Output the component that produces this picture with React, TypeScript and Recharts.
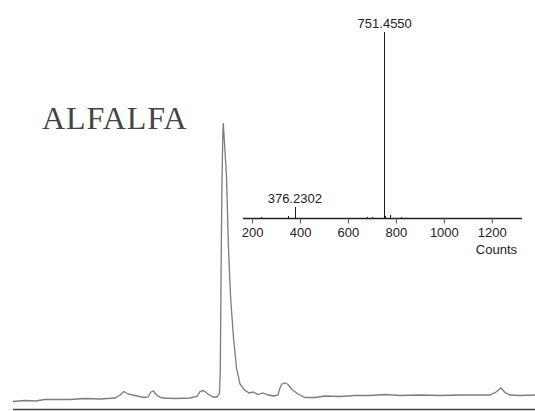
import {
  LineChart,
  Line,
  XAxis,
  YAxis,
  ReferenceLine,
  ComposedChart,
  Bar,
  LabelList,
} from "recharts";

// chromatogram trace (retention time, min / detector signal)
const rtMinutes = [
  0.0, 1.2, 2.2, 3.2, 5.7, 7.2, 8.7, 10.2, 10.7, 11.1, 11.5, 12.2, 13.1, 13.5, 13.8,
  14.05, 14.4, 14.9, 16.2, 17.7, 18.4, 18.7, 19.05, 19.5, 20.0, 20.4, 20.65, 20.73,
  20.8, 20.9, 20.98, 21.03, 21.13, 21.35, 21.53, 21.75, 22.05, 22.35, 22.7, 23.1,
  23.6, 24.0, 24.5, 25.0, 25.5, 26.1, 26.5, 26.7, 26.9, 27.2, 27.5, 27.9, 28.5,
  29.2, 30.2, 31.2, 32.7, 34.2, 35.7, 37.2, 38.7, 40.7, 42.7, 44.7, 47.7, 48.3,
  48.8, 49.2, 49.7, 50.7, 52.2,
];
const signal = [
  8, 9, 8.5, 10, 10, 11, 10.5, 11.5, 14.5, 18, 15.5, 14, 12, 12.5, 17.5,
  18.5, 14, 11.5, 11, 11.5, 13, 18, 19, 15.5, 12.5, 12.5, 16.5, 39.5,
  129.5, 229.5, 274.5, 286.5, 269.5, 233.5, 166.5, 113.5, 71.5, 41.5, 25.5, 20,
  16.5, 17.5, 15, 16.5, 14.5, 13.5, 14.5, 21.5, 25.5, 26.5, 25, 20, 15.5,
  12, 12, 13.5, 13, 14, 14, 15, 14, 14.5, 14, 14.5, 14.5, 17.5,
  21.5, 17, 14.5, 14, 14.5,
];

// inset mass spectrum (m/z / relative counts)
const mz = [237, 349, 360, 376.2302, 378.5, 397, 515.5, 564, 661.6, 680, 700, 720, 751.455, 755, 776, 822];
const counts = [0.8, 1.1, 0.5, 6.4, 6.0, 1.6, 3.6, 1.1, 4.1, 0.8, 0.8, 1, 100, 1.2, 2.1, 0.6];
const peakTags: Record<number, string> = { 376.2302: "376.2302", 751.455: "751.4550" };
const mzTicks = [200, 400, 600, 800, 1000, 1200];

const trace = rtMinutes.map((t, i) => ({ t, v: signal[i] }));
const spectrum = mz.map((m, i) => ({ m, c: counts[i], tag: peakTags[m] }));

const sans = "'Liberation Sans', Arial, sans-serif";

export default function App() {
  return (
    <div style={{ position: "absolute", left: 0, top: 0, width: 535, height: 411, background: "#fff" }}>
      <div style={{ position: "absolute", left: 0, top: 0 }}>
        <LineChart width={535} height={411} data={trace} margin={{ top: 123, right: 0, left: 13, bottom: 1.5 }}>
          <XAxis dataKey="t" type="number" domain={[0, 52.2]} hide />
          <YAxis type="number" domain={[0, 286.5]} hide />
          <ReferenceLine y={0} stroke="#444" strokeWidth={1.6} />
          <Line
            type="linear"
            dataKey="v"
            stroke="#7c7c7c"
            strokeWidth={1.3}
            dot={false}
            isAnimationActive={false}
          />
        </LineChart>
      </div>

      <div
        style={{
          position: "absolute",
          left: 42,
          top: 101.5,
          fontFamily: "'Liberation Serif', 'Times New Roman', serif",
          fontSize: 32,
          lineHeight: "32px",
          color: "#444",
          letterSpacing: 0.9,
        }}
      >
        ALFALFA
      </div>

      <div style={{ position: "absolute", left: 0, top: 0 }}>
        <ComposedChart width={535} height={270} data={spectrum} margin={{ top: 31.7, right: 13, left: 243, bottom: 11.5 }}>
          <XAxis
            dataKey="m"
            type="number"
            domain={[160, 1324]}
            ticks={mzTicks}
            allowDataOverflow
            height={40}
            tickSize={5}
            tickMargin={4}
            axisLine={{ stroke: "#222", strokeWidth: 1.5 }}
            tickLine={{ stroke: "#555" }}
            tick={{ fontSize: 13, fill: "#222", fontFamily: sans }}
            label={{ value: "Counts", position: "insideBottomRight", offset: 5, fontSize: 13, fill: "#222", fontFamily: sans }}
          />
          <YAxis type="number" domain={[0, 100]} hide />
          <Bar dataKey="c" fill="#1a1a1a" barSize={1.6} shapeRendering="crispEdges" isAnimationActive={false}>
            <LabelList dataKey="tag" position="top" offset={4} fontSize={13} fill="#222" fontFamily={sans} />
          </Bar>
        </ComposedChart>
      </div>
    </div>
  );
}
